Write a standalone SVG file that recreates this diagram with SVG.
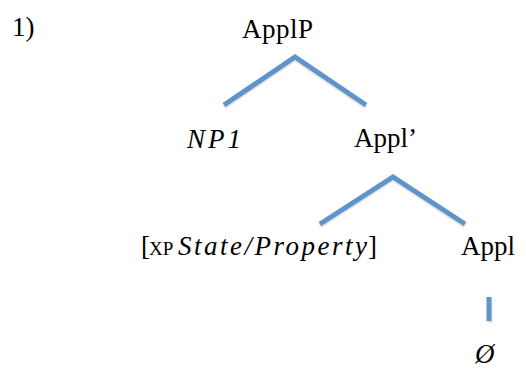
<svg xmlns="http://www.w3.org/2000/svg" width="526" height="369" viewBox="0 0 526 369">
<style>
.e{fill:none;stroke:#5F93CB;stroke-width:5;stroke-linecap:butt;stroke-linejoin:miter}
.s{fill:none;stroke:#000;stroke-opacity:0.10;stroke-width:5}
</style>
<rect width="526" height="369" fill="#fff"/>
<g id="connectors">
<polyline class="s" points="224,107 295,59 366,107"/>
<polyline class="s" points="320,226 393,179 465,226"/>
<line class="s" x1="490" y1="299" x2="490" y2="323"/>
<polyline class="e" points="224,105 295,57 366,105"/>
<polyline class="e" points="320,224 393,177 465,224"/>
<line class="e" x1="489" y1="297" x2="489" y2="321"/>
</g>
<g id="label1"><text x="12" y="36" font-family="Liberation Serif" font-size="27">1)</text></g>
<g id="ApplP"><text x="242" y="38" font-family="Liberation Serif" font-size="27" textLength="71" lengthAdjust="spacing">ApplP</text></g>
<g id="NP1"><text x="187" y="148" font-family="Liberation Serif" font-style="italic" font-size="27" textLength="54" lengthAdjust="spacing">NP1</text></g>
<g id="Applbar"><text x="354" y="147" font-family="Liberation Serif" font-size="27">Appl’</text></g>
<g id="XP"><text x="141" y="255" font-family="Liberation Serif" font-size="27">[</text><text x="149" y="255" font-family="Liberation Serif" font-size="19">XP</text><text x="178" y="255" font-family="Liberation Serif" font-style="italic" font-size="27" textLength="189" lengthAdjust="spacing">State/Property</text><text x="368" y="255" font-family="Liberation Serif" font-size="27">]</text></g>
<g id="Appl"><text x="461" y="255" font-family="Liberation Serif" font-size="27">Appl</text></g>
<g id="null"><text x="475" y="363" font-family="Liberation Serif" font-style="italic" font-size="27">Ø</text></g>
</svg>
